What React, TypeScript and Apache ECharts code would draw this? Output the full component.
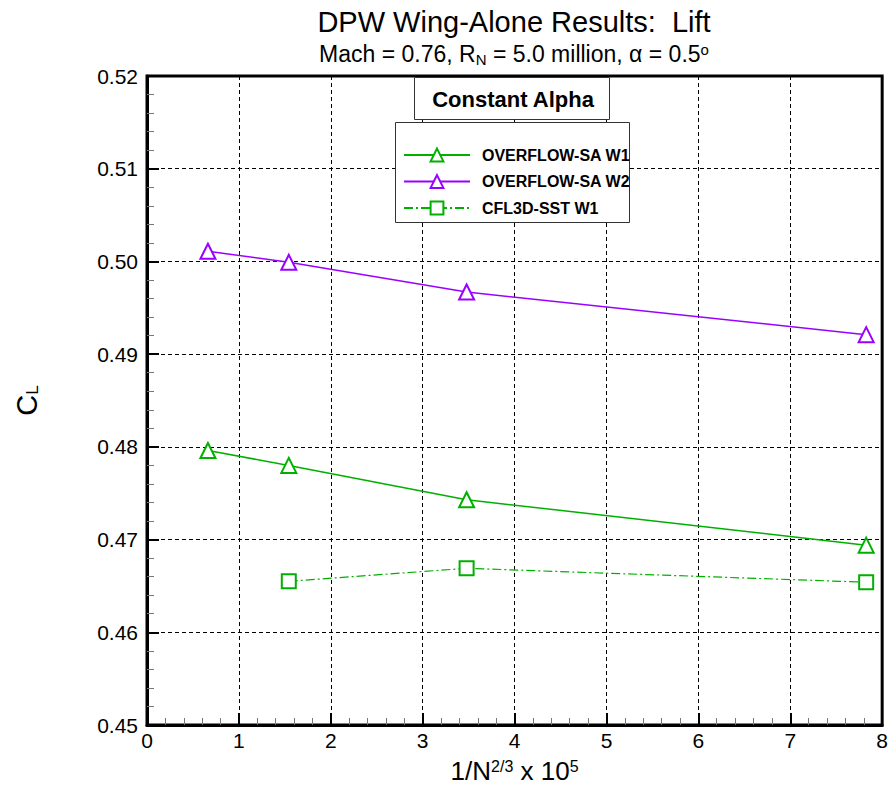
import React, { useEffect, useRef } from "react";
import * as echarts from "echarts";

const seriesNames = ["OVERFLOW-SA W1", "OVERFLOW-SA W2", "CFL3D-SST W1"];
const w1X = [0.663, 1.543, 3.478, 7.826];
const w1Y = [0.4796, 0.478, 0.4743, 0.4694];
const w2X = [0.663, 1.543, 3.478, 7.826];
const w2Y = [0.5011, 0.4999, 0.4967, 0.4921];
const cflX = [1.543, 3.478, 7.826];
const cflY = [0.4655, 0.4669, 0.4654];
const xTicks = [0, 1, 2, 3, 4, 5, 6, 7, 8];
const yTicks = [0.45, 0.46, 0.47, 0.48, 0.49, 0.5, 0.51, 0.52];

const GREEN = "#00b000";
const PURPLE = "#9a00ff";
const FONT = "Liberation Sans, Arial, Helvetica, sans-serif";

export default function App() {
  const ref = useRef<HTMLDivElement>(null);
  useEffect(() => {
    const chart = echarts.init(ref.current!, null, { renderer: "svg" });
    const pair = (xs: number[], ys: number[]) => xs.map((x, i) => [x, ys[i]]);
    const axisCommon = {
      axisLine: { show: true, lineStyle: { color: "#000", width: 3 } },
      axisTick: { show: true, inside: true, length: 12, lineStyle: { color: "#000", width: 2 } },
      minorTick: { show: true, splitNumber: 5, length: 7, lineStyle: { color: "#777", width: 1 } },
      splitLine: { show: true, lineStyle: { color: "#000", type: [4, 3], width: 1 } },
    };
    chart.setOption({
      animation: false,
      backgroundColor: "#fff",
      textStyle: { fontFamily: FONT },
      grid: { left: 147, right: 8, top: 76, bottom: 62, show: true, borderColor: "#000", borderWidth: 3, backgroundColor: "transparent" },
      xAxis: {
        type: "value",
        min: xTicks[0],
        max: xTicks[xTicks.length - 1],
        interval: 1,
        ...axisCommon,
        axisLabel: { color: "#000", fontSize: 21, fontFamily: FONT, margin: 5 },
        name: "{a|1/N}{s|2/3}{a| x 10}{s|5}",
        nameLocation: "middle",
        nameGap: 33,
        nameTextStyle: {
          rich: {
            a: { fontSize: 26, fontFamily: FONT, color: "#000", verticalAlign: "bottom" },
            s: { fontSize: 16, fontFamily: FONT, color: "#000", verticalAlign: "top" },
          },
        },
      },
      yAxis: {
        type: "value",
        min: yTicks[0],
        max: yTicks[yTicks.length - 1],
        interval: 0.01,
        ...axisCommon,
        axisLabel: { color: "#000", fontSize: 21, fontFamily: FONT, margin: 9, formatter: (v: number) => v.toFixed(2) },
        name: "{a|C}{s|L}",
        nameLocation: "middle",
        nameRotate: 90,
        nameGap: 106,
        nameTextStyle: {
          rich: {
            a: { fontSize: 29, fontFamily: FONT, color: "#000", verticalAlign: "top" },
            s: { fontSize: 17, fontFamily: FONT, color: "#000", verticalAlign: "bottom" },
          },
        },
      },
      legend: {
        show: true,
        orient: "vertical",
        left: 403,
        top: 147,
        padding: 0,
        itemWidth: 66,
        itemHeight: 16,
        itemGap: 10.5,
        z: 100,
        data: seriesNames,
        textStyle: { fontFamily: FONT, fontSize: 16, fontWeight: "bold", color: "#000", padding: [0, 0, 0, 7] },
      },
      graphic: [
        { type: "rect", z: 90, shape: { x: 395.5, y: 122.5, width: 234, height: 100 }, style: { fill: "#fff", stroke: "#333", lineWidth: 1 } },
        { type: "rect", z: 90, shape: { x: 414.5, y: 77.5, width: 195, height: 42 }, style: { fill: "#fff", stroke: "#333", lineWidth: 1 } },
        { type: "text", z: 95, x: 513, y: 99, style: { text: "Constant Alpha", font: `bold 22px ${FONT}`, fill: "#000", align: "center", verticalAlign: "middle" } },
        { type: "text", z: 95, x: 514, y: 22, style: { text: "DPW Wing-Alone Results:  Lift", font: `29px ${FONT}`, fill: "#000", align: "center", verticalAlign: "middle" } },
        {
          type: "text",
          z: 95,
          x: 514,
          y: 54,
          style: {
            text: "{a|Mach = 0.76, R}{b|N}{a| = 5.0 million, α = 0.5}{c|o}",
            align: "center",
            verticalAlign: "middle",
            rich: {
              a: { fontSize: 23, fontFamily: FONT, fill: "#000", verticalAlign: "middle" },
              b: { fontSize: 15, fontFamily: FONT, fill: "#000", verticalAlign: "bottom", padding: [10, 0, 0, 0] },
              c: { fontSize: 15, fontFamily: FONT, fill: "#000", verticalAlign: "top", padding: [0, 0, 10, 0] },
            },
          },
        },
      ],
      series: [
        {
          name: seriesNames[0],
          type: "line",
          data: pair(w1X, w1Y),
          symbol: "triangle",
          symbolSize: 15,
          itemStyle: { color: "#fff", borderColor: GREEN, borderWidth: 2 },
          lineStyle: { color: GREEN, width: 1.5 },
          z: 5,
        },
        {
          name: seriesNames[1],
          type: "line",
          data: pair(w2X, w2Y),
          symbol: "triangle",
          symbolSize: 15,
          itemStyle: { color: "#fff", borderColor: PURPLE, borderWidth: 2 },
          lineStyle: { color: PURPLE, width: 1.5 },
          z: 5,
        },
        {
          name: seriesNames[2],
          type: "line",
          data: pair(cflX, cflY),
          symbol: "rect",
          symbolSize: 14,
          itemStyle: { color: "#fff", borderColor: GREEN, borderWidth: 2 },
          lineStyle: { color: GREEN, width: 1.2, type: [9, 3, 2, 3] },
          z: 5,
        },
      ],
    });
    return () => chart.dispose();
  }, []);
  return <div ref={ref} style={{ width: 891, height: 789, position: "absolute", left: 0, top: 0 }} />;
}
